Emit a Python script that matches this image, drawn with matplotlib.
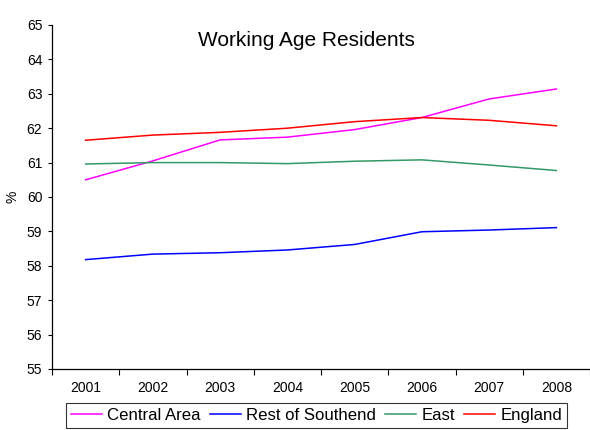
import matplotlib
matplotlib.use("Agg")
import matplotlib.pyplot as plt
import numpy as np

plt.rcParams["font.family"] = ["Liberation Sans", "DejaVu Sans"]

years = ["2001", "2002", "2003", "2004", "2005", "2006", "2007", "2008"]
central_area = [60.50, 61.05, 61.66, 61.74, 61.96, 62.31, 62.85, 63.14]
rest_of_southend = [58.18, 58.34, 58.38, 58.46, 58.62, 58.99, 59.04, 59.11]
east = [60.96, 61.00, 61.00, 60.97, 61.04, 61.08, 60.93, 60.77]
england = [61.65, 61.80, 61.88, 62.00, 62.19, 62.31, 62.23, 62.07]

series = [
    ("Central Area", central_area, "#ff00ff"),
    ("Rest of Southend", rest_of_southend, "#0000ff"),
    ("East", east, "#339966"),
    ("England", england, "#ff0000"),
]

fig = plt.figure(figsize=(5.9, 4.3), dpi=100)
ax = fig.add_axes([52 / 590, 1 - 369 / 430, 538 / 590, 344 / 430])

x = np.arange(len(years))
for name, vals, col in series:
    ax.plot(x, vals, color=col, lw=1.1, label=name)

ax.set_xlim(-0.5, len(years) - 0.5)
ax.set_ylim(55, 65)
ax.set_yticks(np.arange(55, 66, 1))
ax.tick_params(axis="y", direction="out", length=3, width=0.8, labelsize=10, pad=4)

# category labels sit between the tick marks
ax.set_xticks(np.arange(-0.5, len(years), 1))
ax.set_xticklabels([])
ax.set_xticks(x, minor=True)
ax.set_xticklabels(years, minor=True, fontsize=10)
ax.tick_params(axis="x", which="major", direction="out", length=4, width=0.8)
ax.tick_params(axis="x", which="minor", length=0, pad=9)

for side in ["top", "right"]:
    ax.spines[side].set_visible(False)
for side in ["left", "bottom"]:
    ax.spines[side].set_linewidth(0.9)

ax.set_ylabel("%", fontsize=10, labelpad=5)
fig.text(306 / 590, 1 - 40 / 430, "Working Age Residents",
         ha="center", va="center", fontsize=15)

leg = fig.legend(loc="upper left", bbox_to_anchor=(66 / 590, 1 - 403 / 430),
                 ncol=4, fontsize=12.1, frameon=True, fancybox=False,
                 handlelength=1.85, handletextpad=0.3, columnspacing=0.55,
                 borderpad=0.3, borderaxespad=0)
leg.get_frame().set_edgecolor("black")
leg.get_frame().set_linewidth(0.8)

fig.savefig("out.png", dpi=100)
